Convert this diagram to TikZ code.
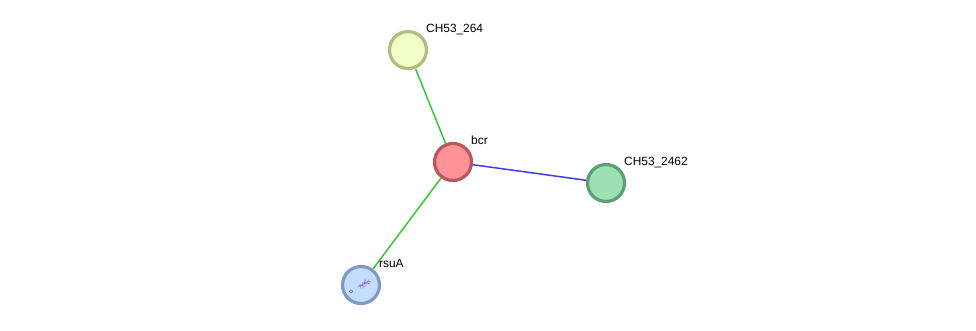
\documentclass[tikz,border=0pt]{standalone}
\usepackage{fontspec}
\usetikzlibrary{backgrounds}
\setmainfont{Liberation Sans}
\definecolor{edgegreen}{RGB}{58,196,58}
\definecolor{edgeblue}{RGB}{60,60,240}
\tikzset{
  protein/.style={circle,minimum size=37pt,inner sep=0pt,line width=3.2pt},
  lbl/.style={anchor=base west,inner sep=0pt,font=\fontsize{11.9pt}{13pt}\selectfont,text=black},
  link/.style={line width=1.5pt}
}
\begin{document}
\begin{tikzpicture}[x=1pt,y=-1pt]
  \useasboundingbox (0,0) rectangle (976,330);
  % protein nodes
  \node[protein,draw={rgb,255:red,178;green,188;blue,128},fill={rgb,255:red,242;green,255;blue,200}] (n264) at (408,50) {};
  \node[protein,draw={rgb,255:red,184;green,88;blue,90},fill={rgb,255:red,255;green,146;blue,150}] (nbcr) at (453,162) {};
  \node[protein,draw={rgb,255:red,92;green,158;blue,118},fill={rgb,255:red,156;green,224;blue,180}] (n2462) at (606,183) {};
  \node[protein,draw={rgb,255:red,126;green,154;blue,194},fill={rgb,255:red,196;green,220;blue,255}] (nrsua) at (361,285) {};
  % connectors
  \begin{scope}[on background layer]
    \draw[link,edgegreen] (nbcr) -- (n264);
    \draw[link,edgeblue] (nbcr) -- (n2462);
    \draw[link,edgegreen] (nbcr) -- (nrsua);
  \end{scope}
  % small structure sketch inside the rsuA disc
  \begin{scope}[shift={(nrsua.center)},line width=.55pt,color={rgb,255:red,120;green,100;blue,205}]
    \draw (-3,2) -- (-1,0) -- (1,1) -- (2,-2) -- (5,-2) -- (7,-4) -- (10,-3);
    \draw[color={rgb,255:red,160;green,160;blue,205}] (-1,4) -- (0,-1) -- (2,3) -- (4,-6) -- (6,-1) -- (8,-6);
    \draw (-2,1) -- (3,0) -- (4,-3) -- (9,-1);
    \draw[color={rgb,255:red,170;green,170;blue,210}] (1,-3) -- (3,2) -- (7,-3);
    \draw (-10,6.5) circle (1.7pt);
    \draw[color={rgb,255:red,160;green,160;blue,205}] (-10,5) -- (-8,6);
  \end{scope}
  % labels
  \node[lbl] (l264) at (426,32) {CH53\_264};
  \node[lbl] (lbcr) at (471,144) {bcr};
  \node[lbl] (l2462) at (624,165) {CH53\_2462};
  \node[lbl] (lrsua) at (379,267) {rsuA};
\end{tikzpicture}
\end{document}
